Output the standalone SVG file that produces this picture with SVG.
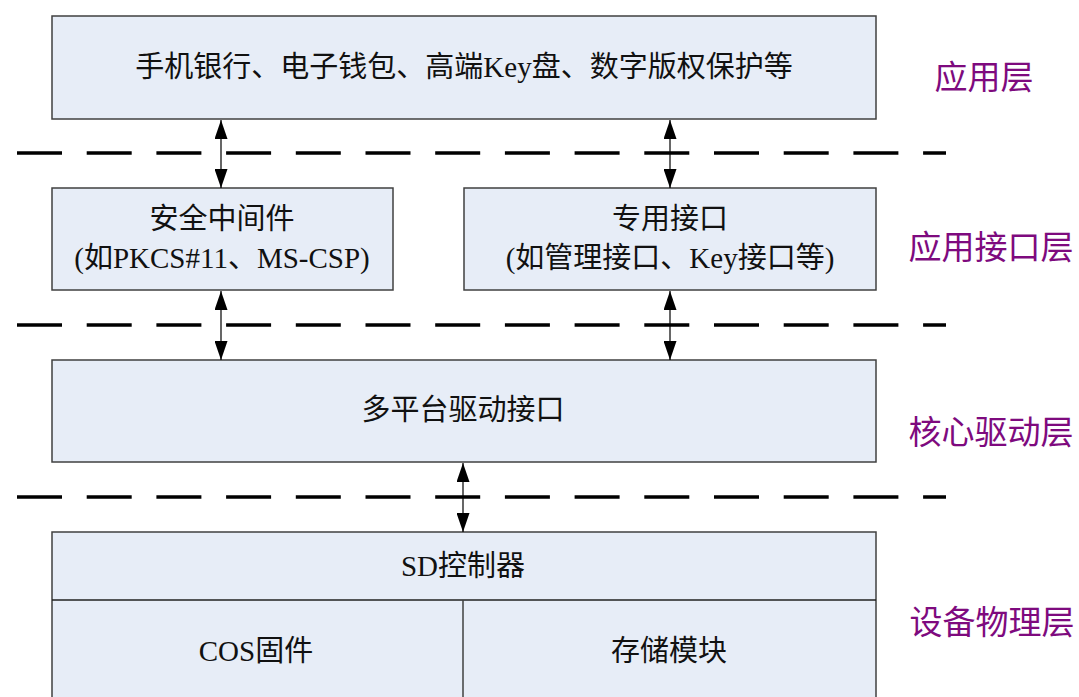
<svg xmlns="http://www.w3.org/2000/svg" width="1079" height="697" viewBox="0 0 1079 697">
<style>
.box{fill:#E7EDF7;stroke:#404040;stroke-width:1.5}
.t{font-family:"Liberation Serif","Noto Sans CJK SC",serif;font-size:29px;fill:#111;text-anchor:middle;dominant-baseline:central}
.lab{font-family:"Noto Sans CJK SC",sans-serif;font-size:33px;fill:#7E0A7E;text-anchor:middle;dominant-baseline:central}
.dash{stroke:#000;stroke-width:3.5;stroke-dasharray:45 24.7;fill:none}
.conn{stroke:#000;stroke-width:1.2;fill:none;marker-start:url(#ah);marker-end:url(#ah)}
</style>
<defs>
<marker id="ah" viewBox="0 0 19 13" refX="19" refY="6.5" markerWidth="19" markerHeight="13" markerUnits="userSpaceOnUse" orient="auto-start-reverse">
<path d="M0,0 L19,6.5 L0,13 Z" fill="#000"/>
</marker>
</defs>
<rect width="1079" height="697" fill="#fff"/>
<g id="separators">
<line class="dash" x1="17" y1="153" x2="946" y2="153"/>
<line class="dash" x1="17" y1="325" x2="946" y2="325"/>
<line class="dash" x1="17" y1="497" x2="946" y2="497"/>
</g>
<g id="app">
<rect class="box" x="52" y="16" width="824" height="103"/>
<text class="t" x="464" y="67">手机银行、电子钱包、高端Key盘、数字版权保护等</text>
</g>
<g id="middleware">
<rect class="box" x="52" y="188" width="341" height="102"/>
<text class="t" x="222" y="219">安全中间件</text>
<text class="t" x="222" y="258">(如PKCS#11、MS-CSP)</text>
</g>
<g id="special">
<rect class="box" x="464" y="188" width="412" height="102"/>
<text class="t" x="670" y="219">专用接口</text>
<text class="t" x="670" y="258">(如管理接口、Key接口等)</text>
</g>
<g id="driver">
<rect class="box" x="52" y="360" width="824" height="102"/>
<text class="t" x="463" y="410">多平台驱动接口</text>
</g>
<g id="device">
<rect class="box" x="52" y="532" width="824" height="175"/>
<line x1="52" y1="600" x2="876" y2="600" stroke="#202020" stroke-width="1.5"/>
<line x1="463" y1="600" x2="463" y2="697" stroke="#404040" stroke-width="1.5"/>
<text class="t" x="463" y="566">SD控制器</text>
<text class="t" x="256" y="651">COS固件</text>
<text class="t" x="669" y="651">存储模块</text>
</g>
<g id="connectors">
<line class="conn" x1="221" y1="120" x2="221" y2="188"/>
<line class="conn" x1="670" y1="120" x2="670" y2="188"/>
<line class="conn" x1="221" y1="291" x2="221" y2="360"/>
<line class="conn" x1="670" y1="291" x2="670" y2="360"/>
<line class="conn" x1="463" y1="463" x2="463" y2="532"/>
</g>
<g id="layer-labels">
<text class="lab" x="984" y="75">应用层</text>
<text class="lab" x="991" y="245">应用接口层</text>
<text class="lab" x="991" y="430">核心驱动层</text>
<text class="lab" x="992" y="620">设备物理层</text>
</g>
</svg>
